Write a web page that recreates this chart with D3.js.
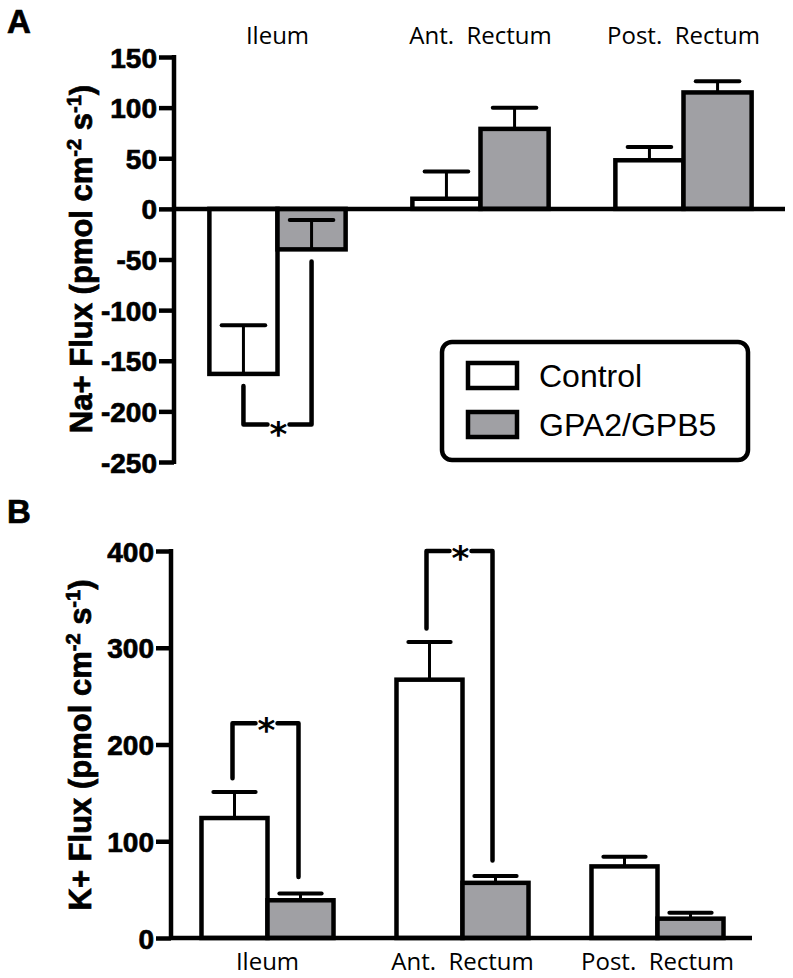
<!DOCTYPE html>
<html>
<head>
<meta charset="utf-8">
<script src="https://cdn.jsdelivr.net/npm/d3@7"></script>
<style>
  body { margin: 0; background: #fff; }
  svg { display: block; }
</style>
</head>
<body>
<svg id="chart" width="793" height="978"></svg>
<script>
// Na+ / K+ flux, control vs GPA2/GPB5
const regions = ["Ileum", "Ant.  Rectum", "Post.  Rectum"];
const groups = ["Control", "GPA2/GPB5"];

const naControl = [-163, 10, 48];
const naControlErr = [48, 27, 13];
const naTreated = [-40, 79, 115];
const naTreatedErr = [29, 21, 11];
const naTicks = [150, 100, 50, 0, -50, -100, -150, -200, -250];

const kControl = [124, 267, 74];
const kControlErr = [27, 39, 10];
const kTreated = [39, 57, 20];
const kTreatedErr = [7, 7, 6];
const kTicks = [0, 100, 200, 300, 400];

const fills = { "Control": "#ffffff", "GPA2/GPB5": "#a0a0a4" };
const boldFont = "'Liberation Sans', Arial, sans-serif";
const catFont = "'Open Sans', 'Noto Sans', sans-serif";

const svg = d3.select("#chart");

function rows(ctrl, ctrlErr, trt, trtErr) {
    return regions.map((r, i) => ({
        region: r,
        bars: [
            { group: "Control", value: ctrl[i], err: ctrlErr[i] },
            { group: "GPA2/GPB5", value: trt[i], err: trtErr[i] }
        ]
    }));
}

// heavy bold text, like the original figure
function heavy(sel, size) {
    return sel.attr("font-family", boldFont)
        .attr("font-weight", "bold")
        .attr("font-size", size)
        .attr("fill", "#000")
        .attr("stroke", "#000")
        .attr("stroke-width", 0.7);
}

function drawPanel(opts) {
    const g = svg.append("g");
    const y = d3.scaleLinear().domain(opts.domain).range(opts.yRange);
    const x0 = d3.scaleBand().domain(regions).range(opts.xRange);
    const x1 = d3.scaleBand().domain(groups).range([0, x0.bandwidth()]).paddingOuter(opts.pad);

    // bars
    const grp = g.selectAll("g.region")
        .data(opts.data)
        .enter().append("g")
        .attr("transform", d => `translate(${x0(d.region)},0)`);

    grp.selectAll("rect")
        .data(d => d.bars)
        .enter().append("rect")
        .attr("x", d => x1(d.group))
        .attr("width", x1.bandwidth())
        .attr("y", d => Math.min(y(d.value), y(0)))
        .attr("height", d => Math.abs(y(d.value) - y(0)))
        .attr("fill", d => fills[d.group])
        .attr("stroke", "#000")
        .attr("stroke-width", 4.5);

    // error bars (upper only)
    const capW = x1.bandwidth() * 0.64;
    const eb = grp.selectAll("g.err")
        .data(d => d.bars)
        .enter().append("g");
    eb.append("line")
        .attr("x1", d => x1(d.group) + x1.bandwidth() / 2)
        .attr("x2", d => x1(d.group) + x1.bandwidth() / 2)
        .attr("y1", d => y(d.value))
        .attr("y2", d => y(d.value + d.err))
        .attr("stroke", "#000").attr("stroke-width", 3);
    eb.append("line")
        .attr("x1", d => x1(d.group) + x1.bandwidth() / 2 - capW / 2)
        .attr("x2", d => x1(d.group) + x1.bandwidth() / 2 + capW / 2)
        .attr("y1", d => y(d.value + d.err))
        .attr("y2", d => y(d.value + d.err))
        .attr("stroke", "#000").attr("stroke-width", 4)
        .attr("stroke-linecap", "round");

    // zero baseline
    g.append("line")
        .attr("x1", opts.axisX).attr("x2", opts.lineEnd)
        .attr("y1", y(0)).attr("y2", y(0))
        .attr("stroke", "#000").attr("stroke-width", 4.5);

    // y axis
    const axis = g.append("g")
        .attr("transform", `translate(${opts.axisX},0)`)
        .call(d3.axisLeft(y).tickValues(opts.ticks).tickFormat(d => String(d))
            .tickSize(15).tickPadding(2).tickSizeOuter(0));
    axis.select(".domain").attr("stroke-width", 4.5)
        .attr("d", `M0,${y(opts.domain[0]) + 2}V${y(opts.domain[1]) - 2}`);
    axis.selectAll(".tick line").attr("stroke-width", 4.5);
    heavy(axis.selectAll(".tick text"), 28).attr("dy", "0.36em");

    // category labels
    g.selectAll("text.cat")
        .data(regions)
        .enter().append("text")
        .attr("x", d => x0(d) + x0.bandwidth() / 2)
        .attr("y", opts.catY)
        .attr("text-anchor", "middle")
        .attr("font-family", catFont)
        .attr("font-size", 24)
        .attr("xml:space", "preserve")
        .style("white-space", "pre")
        .text(d => d);

    // y title
    const t = heavy(g.append("text"), 31)
        .attr("transform", `translate(${opts.titleX},${opts.titleY}) rotate(-90)`)
        .attr("text-anchor", "middle");
    t.append("tspan").text(opts.ion + " Flux (pmol cm");
    t.append("tspan").attr("dy", -11).attr("font-size", 20).text("-2");
    t.append("tspan").attr("dy", 11).text(" s");
    t.append("tspan").attr("dy", -11).attr("font-size", 20).text("-1");
    t.append("tspan").attr("dy", 11).text(")");

    // panel letter
    heavy(g.append("text"), 33)
        .attr("x", 7).attr("y", opts.letterY)
        .text(opts.letter);

    // significance brackets
    opts.brackets.forEach(b => {
        const cx = x0(regions[b.region]) + x0.bandwidth() / 2 - b.inset;
        const xa = cx - x1.bandwidth() / 2;
        const xb = cx + x1.bandwidth() / 2;
        const yl = y(b.left), yr = y(b.right), yb = y(b.level);
        const path = d3.path();
        path.moveTo(xa, yl); path.lineTo(xa, yb); path.lineTo(cx - 10, yb);
        path.moveTo(cx + 12, yb); path.lineTo(xb, yb); path.lineTo(xb, yr);
        g.append("path")
            .attr("d", path.toString())
            .attr("fill", "none")
            .attr("stroke", "#000")
            .attr("stroke-width", 4.5)
            .attr("stroke-linecap", "round")
            .attr("stroke-linejoin", "round");
        g.append("text")
            .attr("x", cx + 1).attr("y", yb + b.starDy)
            .attr("text-anchor", "middle")
            .attr("font-family", "'DejaVu Sans', sans-serif")
            .attr("font-weight", "bold")
            .attr("font-size", 34)
            .text("*");
    });

    return { x0, x1, y };
}

drawPanel({
    letter: "A", letterY: 33, ion: "Na+",
    data: rows(naControl, naControlErr, naTreated, naTreatedErr),
    domain: [-250, 150], yRange: [462, 57],
    xRange: [176, 785], pad: 0.49,
    axisX: 174, lineEnd: 785, ticks: naTicks,
    catY: 44, titleX: 92, titleY: 259,
    brackets: [{ region: 0, left: -175, right: -52, level: -213, inset: 0, starDy: 21 }]
});

drawPanel({
    letter: "B", letterY: 523, ion: "K+",
    data: rows(kControl, kControlErr, kTreated, kTreatedErr),
    domain: [0, 400], yRange: [938, 551],
    xRange: [170, 755], pad: 0.477,
    axisX: 171, lineEnd: 752, ticks: kTicks,
    catY: 970, titleX: 91, titleY: 745,
    brackets: [
        { region: 0, left: 165, right: 63, level: 222, inset: 2, starDy: 19 },
        { region: 1, left: 320, right: 80, level: 400, inset: 3, starDy: 19 }
    ]
});

// legend
const legend = svg.append("g").attr("transform", "translate(442,342)");
legend.append("rect")
    .attr("width", 306).attr("height", 118)
    .attr("rx", 10).attr("ry", 10)
    .attr("fill", "#fff").attr("stroke", "#000").attr("stroke-width", 4.5);
const li = legend.selectAll("g.item")
    .data(groups)
    .enter().append("g")
    .attr("transform", (d, i) => `translate(26,${21 + i * 49})`);
li.append("rect")
    .attr("width", 49).attr("height", 25)
    .attr("fill", d => fills[d])
    .attr("stroke", "#000").attr("stroke-width", 4.5);
li.append("text")
    .attr("x", 71).attr("y", 24)
    .attr("font-family", "'Liberation Sans', Arial, sans-serif")
    .attr("font-size", 32)
    .text(d => d);
</script>
</body>
</html>
